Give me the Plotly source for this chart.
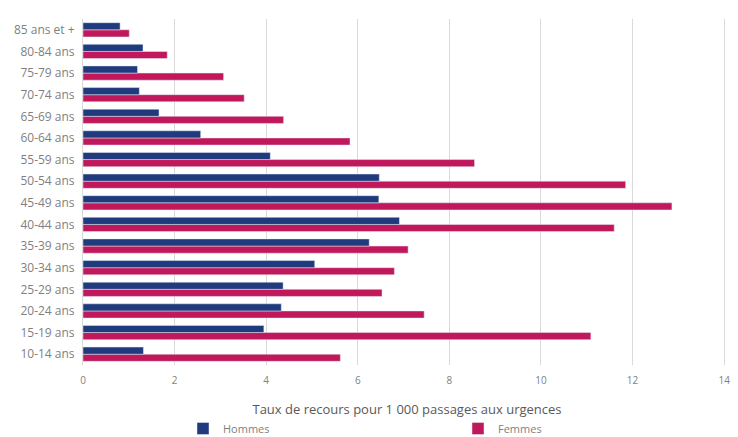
import plotly.graph_objects as go

categories = ["10-14 ans", "15-19 ans", "20-24 ans", "25-29 ans", "30-34 ans", "35-39 ans",
              "40-44 ans", "45-49 ans", "50-54 ans", "55-59 ans", "60-64 ans", "65-69 ans",
              "70-74 ans", "75-79 ans", "80-84 ans", "85 ans et +"]
hommes = [1.32, 3.95, 4.33, 4.37, 5.06, 6.25, 6.91, 6.46, 6.47, 4.09, 2.57, 1.66, 1.23, 1.19, 1.31, 0.81]
femmes = [5.62, 11.09, 7.45, 6.53, 6.80, 7.10, 11.60, 12.86, 11.85, 8.55, 5.83, 4.38, 3.52, 3.07, 1.84, 1.01]
x_ticks = [0, 2, 4, 6, 8, 10, 12, 14]

font_fam = "Open Sans, Liberation Sans, sans-serif"
txt_col = "#7f7f7f"

W, H = 730, 429
L, R, T, B = 75, 7, 11, 72
PW, PH = W - L - R, H - T - B

fig = go.Figure()
fig.add_trace(go.Bar(y=categories, x=femmes, name="Femmes", orientation="h",
                     marker=dict(color="#c0185a"), legend="legend2"))
fig.add_trace(go.Bar(y=categories, x=hommes, name="Hommes", orientation="h",
                     marker=dict(color="#1f3a7d"), legend="legend"))

leg_common = dict(orientation="h", yanchor="bottom", y=-(B + 6) / PH, bgcolor="rgba(0,0,0,0)",
                  font=dict(size=11, color=txt_col), itemwidth=30)

fig.update_layout(
    width=W, height=H,
    margin=dict(l=L, r=R, t=T, b=B, autoexpand=False),
    paper_bgcolor="white", plot_bgcolor="white",
    barmode="group", bargap=0.34, bargroupgap=0,
    font=dict(family=font_fam, size=10, color=txt_col),
    showlegend=True,
    legend=dict(x=(175 - L) / PW, xanchor="left", **leg_common),
    legend2=dict(x=(450 - L) / PW, xanchor="left", **leg_common),
    xaxis=dict(range=[0, 14.15], tickvals=x_ticks, ticktext=[str(v) for v in x_ticks],
               automargin=False, ticklabeloverflow="allow", ticklabelstandoff=8,
               showgrid=True, gridcolor="#d9d9d9", gridwidth=1, zeroline=False,
               showline=False, ticks="", tickfont=dict(size=10, color=txt_col),
               title=dict(text="Taux de recours pour 1 000 passages aux urgences",
                          font=dict(size=13, color="#595959"), standoff=18)),
    yaxis=dict(categoryorder="array", categoryarray=categories, showgrid=False,
               automargin=False,
               showline=True, linecolor="#d9d9d9", ticks="", ticklabelstandoff=5,
               tickfont=dict(size=12, color=txt_col)),
)

fig.write_html("out.html")
